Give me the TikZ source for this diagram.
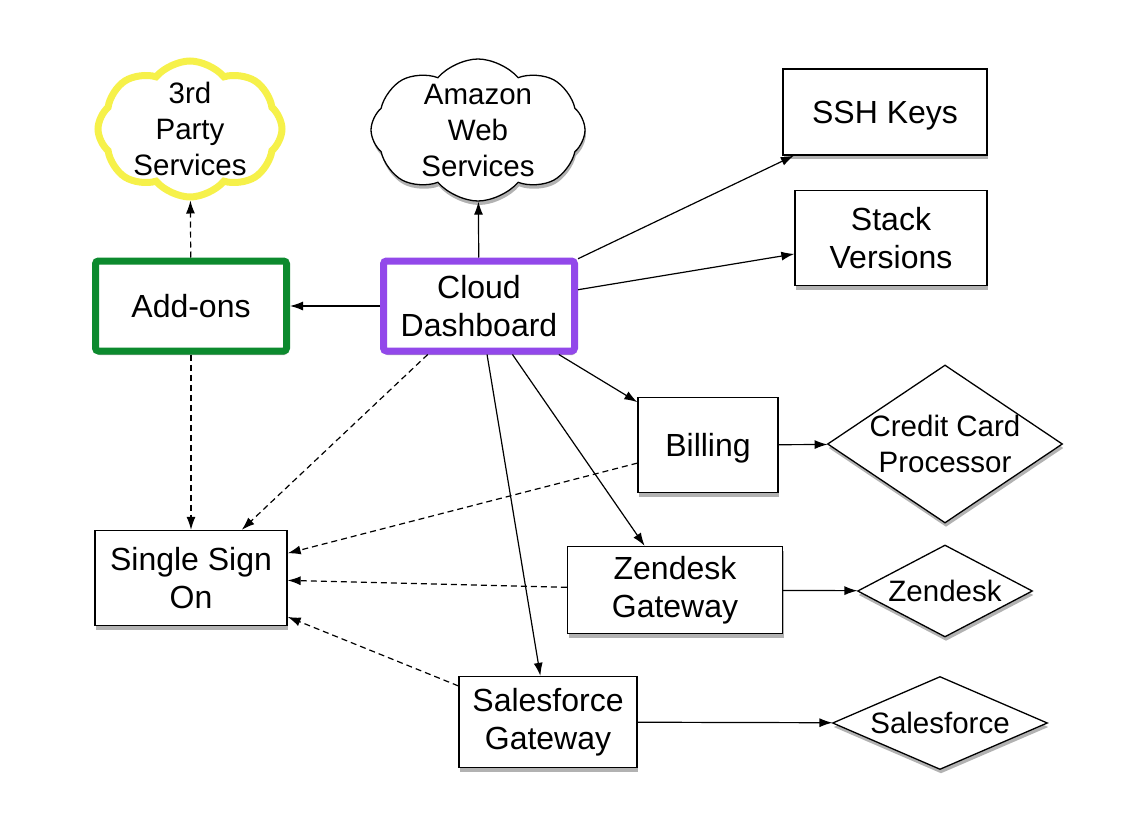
\documentclass[tikz,border=0pt]{standalone}
\usepackage{fontspec}
\setmainfont{Liberation Sans}
\usetikzlibrary{arrows.meta,shapes.geometric,shapes.symbols,shadows}
\definecolor{dashpurple}{RGB}{146,72,234}
\definecolor{addgreen}{RGB}{12,138,46}
\definecolor{cloudyellow}{RGB}{246,241,74}
\begin{document}
\begin{tikzpicture}[x=1pt,y=-1pt,
  shad/.style={drop shadow={shadow xshift=1pt,shadow yshift=-4pt,opacity=0.3,fill=black}},
  box/.style={draw=black,line width=1.3pt,fill=white,rectangle,inner sep=0pt,align=center,
    font=\fontsize{32}{38}\selectfont,shad},
  thickbox/.style={box,line width=7pt,rounded corners=3pt,minimum width=191,minimum height=90},
  dia/.style={draw=black,line width=1.3pt,fill=white,diamond,aspect=2,inner sep=-3pt,align=center,
    font=\fontsize{29.5}{36}\selectfont,shad},
  cloudy/.style={draw=black,line width=1.3pt,fill=white,cloud,cloud puffs=8,cloud puff arc=100,
    aspect=1.3,inner sep=-6pt,align=center,font=\fontsize{29.5}{36}\selectfont},
  arr/.style={line width=1.2pt,-{Latex[length=13pt,width=9pt]}},
  darr/.style={arr,dash pattern=on 6pt off 4pt}]
\useasboundingbox (0,0) rectangle (1134,829);

\node[cloudy,draw=cloudyellow,line width=7pt,minimum width=184,minimum height=136,
  drop shadow={shadow xshift=0pt,shadow yshift=-2pt,opacity=0.15,fill=black}] (third) at (190,129) {3rd\\Party\\Services};
\node[cloudy,minimum width=214,minimum height=142,shad] (aws) at (478,130) {Amazon\\Web\\Services};
\node[box,minimum width=204,minimum height=86,text depth=0pt] (ssh) at (885,112) {SSH Keys};
\node[box,minimum width=192,minimum height=95] (stack) at (891,238) {Stack\\Versions};
\node[thickbox,draw=dashpurple] (dash) at (479,306) {Cloud\\Dashboard};
\node[thickbox,draw=addgreen] (addons) at (191,306) {Add-ons};
\node[box,minimum width=140,minimum height=95,text depth=0pt] (billing) at (708,445) {Billing};
\node[dia,aspect=1.5,inner sep=-8pt,minimum width=235,minimum height=158] (ccp) at (945,444) {Credit Card\\Processor};
\node[box,minimum width=192,minimum height=95] (sso) at (191,578) {Single Sign\\On};
\node[box,minimum width=215,minimum height=87] (zgw) at (675,590) {Zendesk\\Gateway};
\node[dia,minimum width=175,minimum height=92] (zen) at (945,591) {Zendesk};
\node[box,minimum width=178,minimum height=91] (sgw) at (548,722) {Salesforce\\Gateway};
\node[dia,minimum width=215,minimum height=93] (sf) at (940,723) {Salesforce};

\draw[arr] (dash) -- (aws);
\draw[arr] (dash) -- (addons);
\draw[arr] (dash) -- (ssh);
\draw[arr] (dash) -- (stack);
\draw[arr] (dash) -- (billing);
\draw[arr] (dash) -- (zgw);
\draw[arr] (dash) -- (sgw);
\draw[darr] (dash) -- (sso);
\draw[darr] (addons) -- (third);
\draw[darr] (addons) -- (sso);
\draw[darr] (billing) -- (sso);
\draw[darr] (zgw) -- (sso);
\draw[darr] (sgw) -- (sso);
\draw[arr] (billing) -- (ccp);
\draw[arr] (zgw) -- (zen);
\draw[arr] (sgw) -- (sf);
\end{tikzpicture}
\end{document}
